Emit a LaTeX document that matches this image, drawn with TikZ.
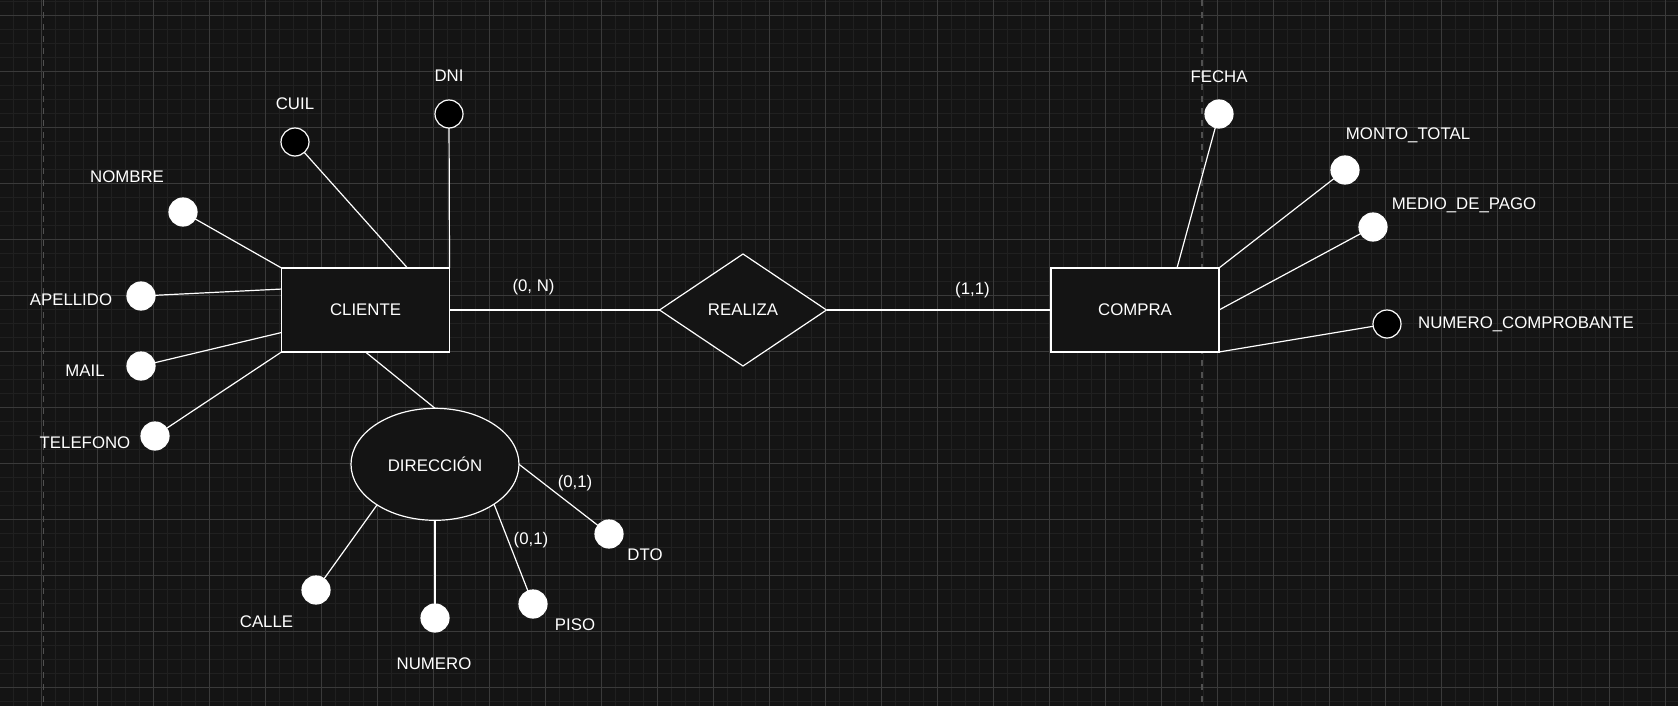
\documentclass[tikz,border=0pt]{standalone}
\usepackage{fontspec}
\setmainfont{Liberation Sans}
\usetikzlibrary{shapes.geometric}
\definecolor{fondo}{HTML}{141414}
\definecolor{rejilla}{HTML}{202020}
\definecolor{rejillamayor}{HTML}{3A3A3A}
\definecolor{hoja}{HTML}{505050}
\begin{document}
\begin{tikzpicture}[x=1pt, y=-1pt, font=\fontsize{16.8}{20}\selectfont, line width=1.2pt]
        \useasboundingbox[fill=fondo] (0,0) rectangle (1678,706);
        % rejilla de fondo
        \foreach \i in {0,...,118} \draw[rejilla, line width=1pt] ({13.3+14*\i},0) -- ++(0,706);
        \foreach \j in {0,...,50} \draw[rejilla, line width=1pt] (0,{1.3+14*\j}) -- ++(1678,0);
        \foreach \i in {0,...,29} \draw[rejillamayor, line width=1pt] ({41.3+56*\i},0) -- ++(0,706);
        \foreach \j in {0,...,12} \draw[rejillamayor, line width=1pt] (0,{15.3+56*\j}) -- ++(1678,0);
        \draw[hoja, dash pattern=on 6pt off 6pt] (43.7,0) -- ++(0,706) (1202,0) -- ++(0,706);
        \begin{scope}[every node/.style={draw=white, fill=fondo, text=white, inner sep=0pt, outer sep=0pt}]
            \node[minimum width=168pt, minimum height=84pt] (cliente) at (365.5, 310) {CLIENTE};
            \node[minimum width=168pt, minimum height=84pt] (compra) at (1135, 310) {COMPRA};
            \node[diamond, minimum width=167pt, minimum height=112pt] (realiza) at (743, 310) {REALIZA};
            \node[ellipse, minimum width=168pt, minimum height=112pt] (direccion) at (435, 464.3) {DIRECCIÓN};
        \end{scope}
        \begin{scope}[every node/.style={circle, draw=white, fill=white, minimum size=28pt, inner sep=0pt, outer sep=0pt}]
            \node[fill=black] (cuil) at (295, 142) {};
            \node[fill=black] (dni) at (449, 114) {};
            \node (nombre) at (183, 212) {};
            \node (apellido) at (141, 296) {};
            \node (mail) at (141, 366) {};
            \node (telefono) at (155, 436) {};
            \node (calle) at (316, 590) {};
            \node (numero) at (435, 618) {};
            \node (piso) at (533, 604) {};
            \node (dto) at (609, 534) {};
            \node (fecha) at (1219, 114) {};
            \node (monto) at (1345, 170) {};
            \node (medio) at (1373, 227) {};
            \node[fill=black] (numcomp) at (1387, 324) {};
        \end{scope}
        \begin{scope}[every node/.style={text=white, inner sep=0pt}]
            \node (lcuil) at (295, 104) {CUIL};
            \node (ldni) at (449, 76) {DNI};
            \node (lnombre) at (127, 177) {NOMBRE};
            \node (lapellido) at (71, 300) {APELLIDO};
            \node (lmail) at (85, 371) {MAIL};
            \node (ltelefono) at (85, 443) {TELEFONO};
            \node (lcalle) at (266.5, 622) {CALLE};
            \node (lnumero) at (434, 664) {NUMERO};
            \node (lpiso) at (575, 625) {PISO};
            \node (ldto) at (645, 555) {DTO};
            \node (lfecha) at (1219, 77) {FECHA};
            \node (lmonto) at (1408, 135) {MONTO\_TOTAL};
            \node (lmedio) at (1464, 205) {MEDIO\_DE\_PAGO};
            \node (lnumcomp) at (1526, 324) {NUMERO\_COMPROBANTE};
        \end{scope}
        \begin{scope}[every edge/.style={draw=white, line width=1.2pt}, every node/.style={text=white, inner sep=0pt}]
            \path [-] (cliente) edge node [pos=.4, yshift=23pt] {(0, N)} (realiza);
            \path [-] (realiza) edge node [pos=.65, yshift=20pt] {(1,1)} (compra);
            \path [-] (cuil) edge (cliente.45);
            \path [-] (dni) edge (cliente.north east);
            \path [-] (nombre) edge (cliente.north west);
            \path [-] (apellido) edge (cliente.166);
            \path [-] (mail) edge (cliente.195);
            \path [-] (telefono) edge (cliente.south west);
            \path [-] (cliente.south) edge (direccion.north);
            \path [-] (direccion.215) edge (calle);
            \path [-] (direccion.south) edge (numero);
            \path [-] (direccion.-34) edge node [pos=.41, xshift=23pt] {(0,1)} (piso);
            \path [-] (direccion.east) edge node [pos=.71, yshift=25pt] {(0,1)} (dto);
            \path [-] (fecha) edge (compra.45);
            \path [-] (monto) edge (compra.north east);
            \path [-] (medio) edge (compra.east);
            \path [-] (numcomp) edge (compra.south east);
        \end{scope}
    \end{tikzpicture}
\end{document}
